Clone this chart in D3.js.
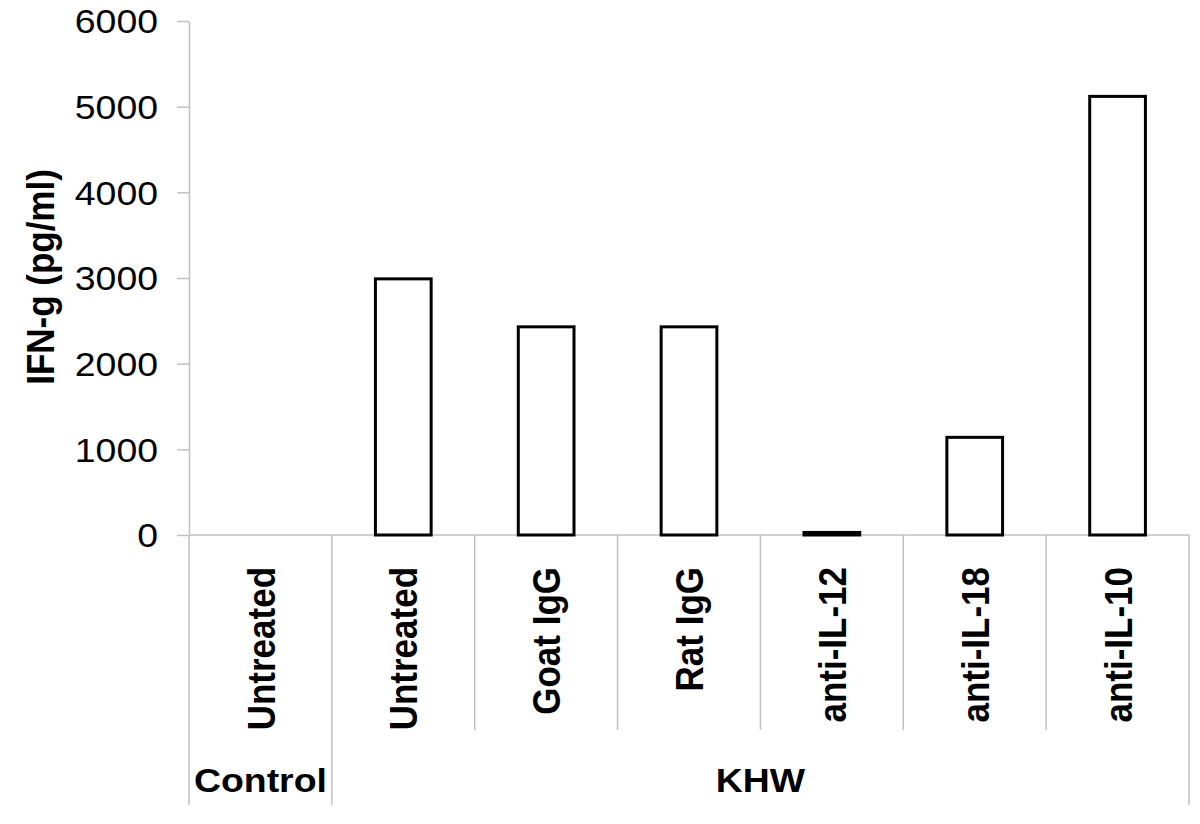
<!DOCTYPE html>
<html>
<head>
<meta charset="utf-8">
<script src="https://cdn.jsdelivr.net/npm/d3@7"></script>
<style>
    body { margin: 0; background: #fff; }
    svg text { font-family: "Liberation Sans", Arial, sans-serif; fill: #000; }
</style>
</head>
<body>
<svg></svg>
<script>
const width = 1200;
const height = 824;

// chart data
const categories = ['Untreated', 'Untreated', 'Goat IgG', 'Rat IgG', 'anti-IL-12', 'anti-IL-18', 'anti-IL-10'];
const values = [null, 2990, 2430, 2430, 30, 1140, 5120];
const groupNames = ['Control', 'KHW'];
const groupSizes = [1, 6];
const yTicks = [0, 1000, 2000, 3000, 4000, 5000, 6000];

const stretch = 1.1; // the source picture is slightly wide
const gridColor = '#c0c0c0';

const svg = d3.select('svg')
    .attr('width', width).attr('height', height);

const x = d3.scaleBand()
    .domain(d3.range(categories.length))
    .range([189, 1189])
    .paddingInner(0).paddingOuter(0);

const y = d3.scaleLinear()
    .domain([0, 6000])
    .range([535, 21]);

const bw = x.bandwidth();
const barW = bw * 0.39;

// y axis
const yAxis = svg.append('g')
    .attr('transform', `translate(${x.range()[0]},0)`)
    .call(d3.axisLeft(y).tickValues(yTicks).tickSize(12).tickSizeOuter(0).tickFormat(d3.format('d')));

yAxis.select('.domain').attr('stroke', gridColor).attr('stroke-width', 1.5);
yAxis.selectAll('.tick line').attr('stroke', gridColor).attr('stroke-width', 1.5);
yAxis.selectAll('.tick text')
    .attr('x', -31 / stretch)
    .attr('dy', '0.35em')
    .attr('transform', `scale(${stretch},1)`)
    .style('font-size', '34px')
    .style('font-family', '"Liberation Sans", Arial, sans-serif')
    .attr('fill', '#000');

// baseline at zero
svg.append('line')
    .attr('x1', x.range()[0]).attr('x2', x.range()[1])
    .attr('y1', y(0)).attr('y2', y(0))
    .attr('stroke', gridColor).attr('stroke-width', 1.5);

// category separators below the axis
const groupEdges = [0];
groupSizes.forEach((s, i) => groupEdges.push(groupEdges[i] + s));
const edges = d3.range(categories.length + 1);
svg.append('g').selectAll('line')
    .data(edges)
    .join('line')
    .attr('x1', d => x.range()[0] + d * bw)
    .attr('x2', d => x.range()[0] + d * bw)
    .attr('y1', y(0))
    .attr('y2', d => groupEdges.includes(d) ? 805 : 730)
    .attr('stroke', gridColor)
    .attr('stroke-width', 1.5);

// bars
svg.append('g').selectAll('rect')
    .data(values.map((v, i) => ({ v, i })).filter(d => d.v !== null))
    .join('rect')
    .attr('x', d => x(d.i) + (bw - barW) / 2)
    .attr('width', barW)
    .attr('y', d => y(d.v))
    .attr('height', d => y(0) - y(d.v))
    .attr('fill', '#fff')
    .attr('stroke', '#000')
    .attr('stroke-width', 3);

// rotated category labels
svg.append('g').selectAll('text')
    .data(categories)
    .join('text')
    .attr('transform', (d, i) => `translate(${x(i) + bw / 2},567) scale(1.12,1) rotate(-90)`)
    .attr('text-anchor', 'end')
    .attr('dy', '0.36em')
    .style('font-size', '35px')
    .style('font-weight', 'bold')
    .text(d => d);

// group labels
svg.append('g').selectAll('text')
    .data(groupNames)
    .join('text')
    .attr('transform', (d, i) => {
        const cx = x.range()[0] + (groupEdges[i] + groupEdges[i + 1]) / 2 * bw;
        return `translate(${cx},792) scale(${stretch},1)`;
    })
    .attr('text-anchor', 'middle')
    .style('font-size', '34px')
    .style('font-weight', 'bold')
    .text(d => d);

// y axis title
svg.append('text')
    .attr('transform', `translate(40,277) scale(1.12,1) rotate(-90)`)
    .attr('text-anchor', 'middle')
    .attr('dy', '0.35em')
    .style('font-size', '35px')
    .style('font-weight', 'bold')
    .text('IFN-g (pg/ml)');
</script>
</body>
</html>
